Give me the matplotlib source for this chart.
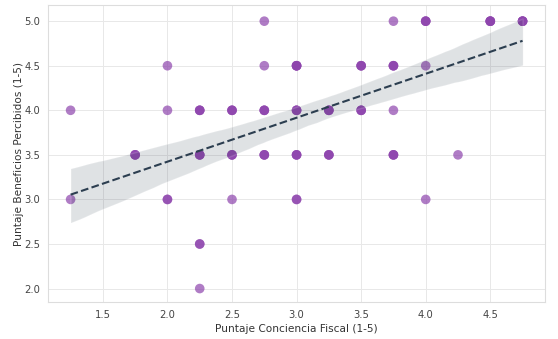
import numpy as np
import pandas as pd
import matplotlib
matplotlib.use("Agg")
import matplotlib.pyplot as plt
import seaborn as sns

# Datos: cada punto visible con su número de respuestas
# (los puntos más oscuros son respuestas repetidas que se superponen)
puntos_x = [2.75, 3.75, 4.0, 4.5, 4.75,
            2.0, 2.75, 3.0, 3.5, 3.75, 4.0,
            1.25, 2.0, 2.25, 2.5, 2.75, 3.0, 3.25, 3.5, 3.75,
            1.75, 2.25, 2.5, 2.75, 3.0, 3.25, 3.75, 4.25,
            1.25, 2.0, 2.5, 3.0, 4.0,
            2.25, 2.25]
puntos_y = [5.0, 5.0, 5.0, 5.0, 5.0,
            4.5, 4.5, 4.5, 4.5, 4.5, 4.5,
            4.0, 4.0, 4.0, 4.0, 4.0, 4.0, 4.0, 4.0, 4.0,
            3.5, 3.5, 3.5, 3.5, 3.5, 3.5, 3.5, 3.5,
            3.0, 3.0, 3.0, 3.0, 3.0,
            2.5, 2.0]
repeticiones = [1, 1, 3, 4, 4,
                1, 1, 4, 3, 3, 1,
                1, 1, 3, 3, 3, 3, 3, 3, 1,
                3, 3, 3, 3, 3, 3, 3, 1,
                1, 2, 1, 2, 1,
                2, 1]

conciencia = np.repeat(puntos_x, repeticiones)
beneficios = np.repeat(puntos_y, repeticiones)
df = pd.DataFrame({"conciencia": conciencia, "beneficios": beneficios})

sns.set_theme(style="whitegrid")
plt.rcParams['font.family'] = ['DejaVu Sans']

fig, ax = plt.subplots(figsize=(5.58, 3.39), dpi=100)
fig.subplots_adjust(left=0.086, right=0.977, top=0.985, bottom=0.109)

sns.regplot(data=df, x="conciencia", y="beneficios", ax=ax, seed=1,
            scatter_kws=dict(color="#8e44ad", alpha=0.7, s=48, edgecolor="none"),
            line_kws=dict(color="#2c3e50", linestyle="--", linewidth=1.5))

ax.set_xlabel("Puntaje Conciencia Fiscal (1-5)", fontsize=7.6, color="#333333", labelpad=3)
ax.set_ylabel("Puntaje Beneficios Percibidos (1-5)", fontsize=7.6, color="#333333", labelpad=0)
ax.tick_params(axis="both", labelsize=7.2, colors="#444444", length=0, pad=5.5)
ax.set_xticks([1.5, 2.0, 2.5, 3.0, 3.5, 4.0, 4.5])
ax.set_yticks([2.0, 2.5, 3.0, 3.5, 4.0, 4.5, 5.0])
ax.grid(True, color="#e8e8e8", linewidth=0.7)
for s in ax.spines.values():
    s.set_color("#dddddd")
    s.set_linewidth(0.8)

plt.savefig("out.png", dpi=100)
